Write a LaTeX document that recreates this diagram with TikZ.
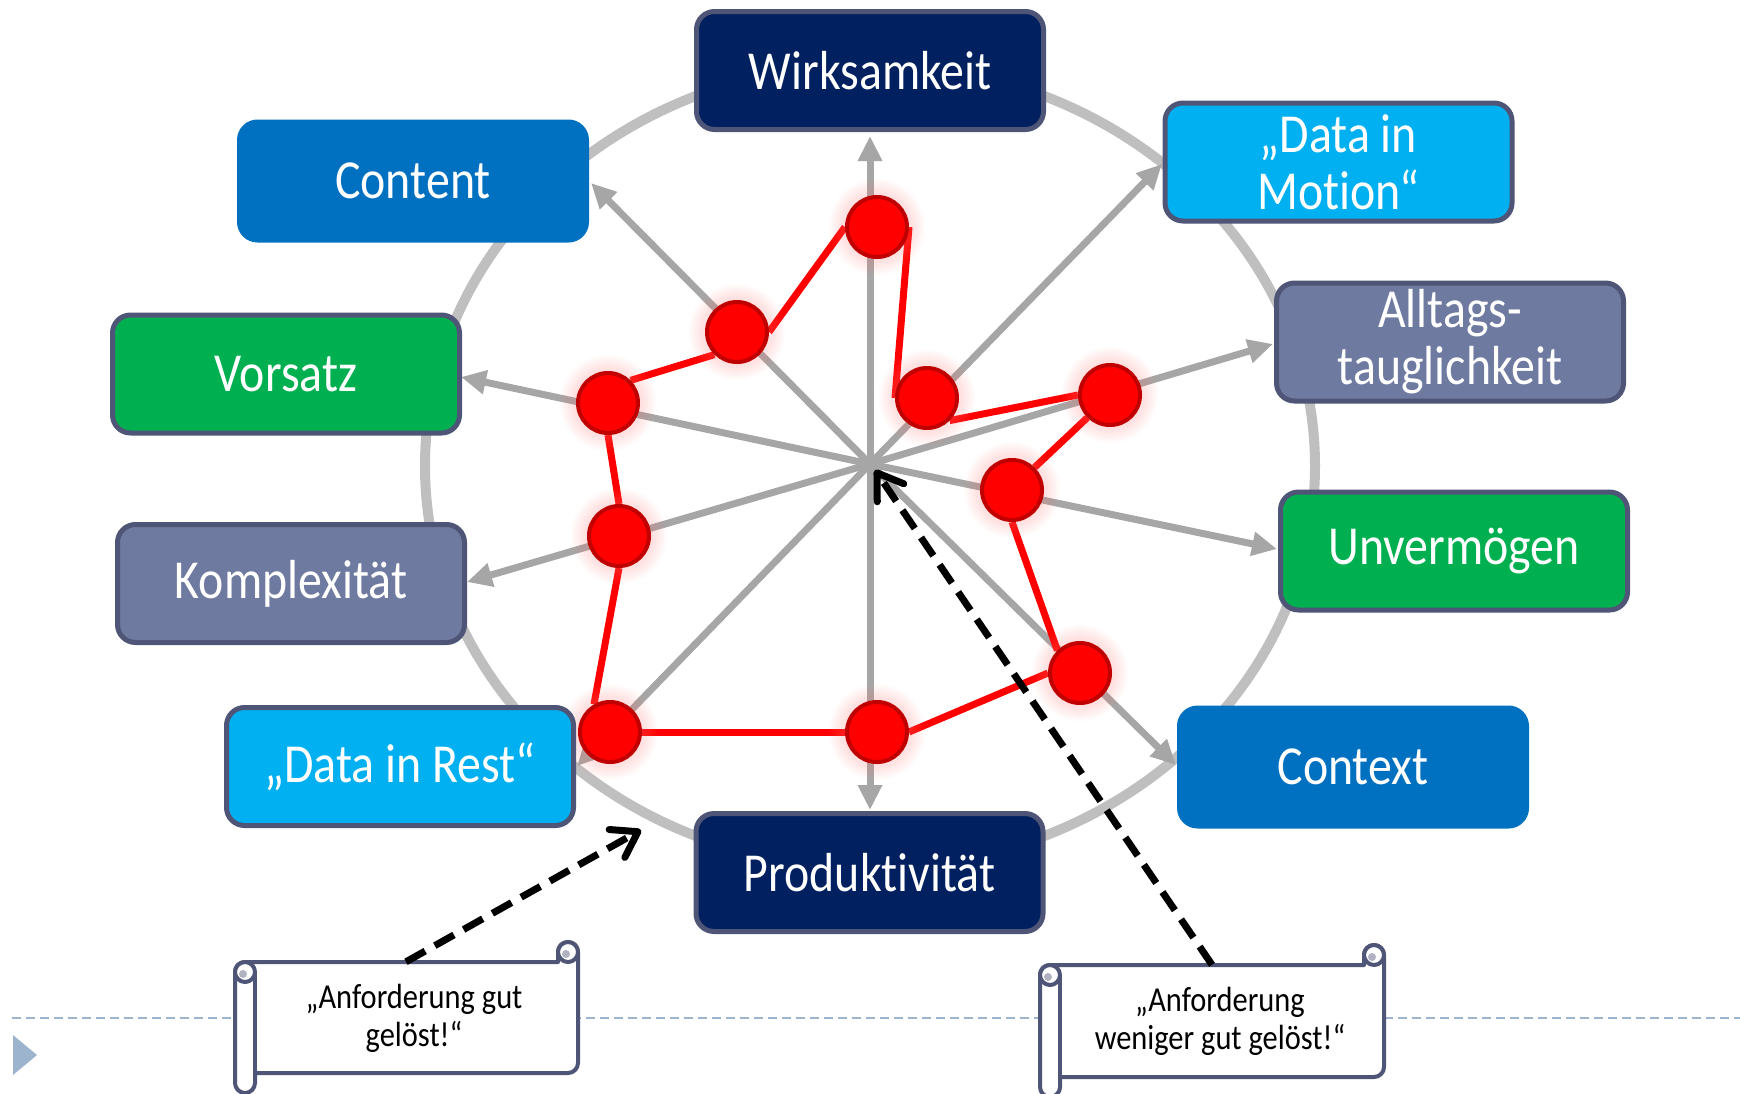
\documentclass[tikz,border=0pt]{standalone}
\usepackage{fontspec}
\setmainfont{Carlito}[FakeStretch=0.87,Ligatures=NoCommon]
\usetikzlibrary{arrows.meta,calc}
\pgfdeclarelayer{back}
\pgfdeclarelayer{mid}
\pgfsetlayers{back,mid,main}

\definecolor{navy}{HTML}{002060}
\definecolor{midblue}{HTML}{0070C0}
\definecolor{skyblue}{HTML}{00B0F0}
\definecolor{slateblue}{HTML}{6F7AA0}
\definecolor{leaf}{HTML}{00B050}
\definecolor{edge}{HTML}{4F5577}
\definecolor{spokegray}{HTML}{A6A6A6}
\definecolor{ringgray}{HTML}{BFBFBF}
\definecolor{dotedge}{HTML}{C00000}
\definecolor{rulecol}{HTML}{9DB4CE}

\newcommand{\lblfont}{\fontsize{55}{57}\selectfont}
\newcommand{\scrollfont}{\fontsize{35}{38}\selectfont}

% horizontal scroll outline: #1 left, #2 top, #3 right, #4 bottom
\newcommand{\scrollframe}[4]{%
  \filldraw[scroll line, fill=white]
    ({#1},{#2+30}) arc[start angle=180,end angle=270,radius=10]
    -- ({#3-20},{#2+20}) -- ({#3-20},{#2+10})
    arc[start angle=180,end angle=360,radius=10]
    -- ({#3},{#4-30})
    arc[start angle=0,end angle=90,radius=10]
    -- ({#1+20},{#4-20}) -- ({#1+20},{#4-10})
    arc[start angle=0,end angle=180,radius=10]
    -- cycle;
  \draw[scroll line] ({#1+20},{#2+30}) -- ({#1+20},{#4-20});
  \filldraw[scroll line, fill=white] ({#3-10},{#2+10}) circle (10);
  \filldraw[scroll line, fill=white] ({#1+10},{#2+30}) circle (10);
  \fill[edge!45] ({#3-12},{#2+12}) circle (4);
  \fill[edge!45] ({#1+8},{#2+32}) circle (4);
}

\tikzset{
  label box/.style={rounded corners=18pt, minimum width=347pt, minimum height=118pt,
    line width=5pt, draw=edge, text=white, font=\lblfont, align=center, inner sep=0pt},
  spoke/.style={draw=spokegray, line width=7pt, -{Triangle[length=25pt,width=23pt]}},
  ring/.style={draw=ringgray, line width=10pt},
  score dot/.style={circle, fill=red, draw=dotedge, line width=4pt, minimum size=60pt, inner sep=0pt},
  score line/.style={draw=red, line width=7pt},
  glow/.style={fill=red!50, opacity=0.035},
  note arrow/.style={draw=black, line width=7pt, dash pattern=on 22pt off 11pt,
    -{Straight Barb[length=24pt,width=32pt,round]}},
  scroll line/.style={draw=edge, line width=4pt, line join=round},
  note/.style={minimum width=323pt, minimum height=110pt, inner sep=0pt, align=center,
    font=\scrollfont, text=black},
  rule/.style={draw=rulecol, line width=2pt, dash pattern=on 9pt off 5pt},
}

\begin{document}
\begin{tikzpicture}[x=1pt,y=-1pt]
\useasboundingbox (0,0) rectangle (1740,1093);

% criteria boxes
\node[label box, fill=navy] (wirk) at (870,70.5) {Wirksamkeit};
\node[label box, fill=midblue, draw=midblue] (cont) at (413,181) {Content};
\node[label box, fill=skyblue] (dim) at (1338.5,162) {„Data in\\Motion“};
\node[label box, fill=slateblue] (allt) at (1450,342) {Alltags-\\tauglichkeit};
\node[label box, fill=leaf] (vors) at (286,374) {Vorsatz};
\node[label box, fill=leaf] (unv) at (1454,551) {Unvermögen};
\node[label box, fill=slateblue] (kompl) at (291,583.5) {Komplexität};
\node[label box, fill=midblue, draw=midblue] (ctx) at (1353,767) {Context};
\node[label box, fill=skyblue] (dir) at (400,766.5) {„Data in Rest“};
\node[label box, fill=navy] (prod) at (869.5,872.5) {Produktivität};

% hub and spoke tips
\coordinate (hub) at (870,464);
\coordinate (tW) at (870,136);
\coordinate (tCont) at (591,183);
\coordinate (tDiM) at (1162,164);
\coordinate (tAllt) at (1273,344);
\coordinate (tVors) at (461,377);
\coordinate (tUnv) at (1277,549);
\coordinate (tKompl) at (467,582);
\coordinate (tCtx) at (1176,765);
\coordinate (tDiR) at (577,766);
\coordinate (tProd) at (870,810);

\begin{pgfonlayer}{back}
  \draw[ring] (870,466) ellipse [x radius=445, y radius=402];
  \foreach \t in {tW,tCont,tDiM,tAllt,tVors,tUnv,tKompl,tCtx,tDiR,tProd}
    \draw[spoke] (hub) -- (\t);
  \draw[rule] (12,1018) -- (1740,1018);
  \fill[rulecol] (13,1035) -- (13,1075) -- (37,1055) -- cycle;
\end{pgfonlayer}

% score points
\node[score dot] (d1) at (877,227) {};
\node[score dot] (d2) at (737,332) {};
\node[score dot] (d3) at (608,403) {};
\node[score dot] (d4) at (619,536) {};
\node[score dot] (d5) at (610,732) {};
\node[score dot] (d6) at (877,732) {};
\node[score dot] (d7) at (1080,673) {};
\node[score dot] (d8) at (1012,490) {};
\node[score dot] (d9) at (1110,395) {};
\node[score dot] (d10) at (927,398) {};

\begin{pgfonlayer}{mid}
  \draw[score line] (d1.west) -- (d2.east);
  \draw[score line] (d2.south west) -- (d3.north east);
  \draw[score line] (d3.south) -- (d4.north);
  \draw[score line] (d4.south) -- (d5.120);
  \draw[score line] (d5.east) -- (d6.west);
  \draw[score line] (d6.east) -- (d7.west);
  \draw[score line] (d7.north west) -- (d8.south);
  \draw[score line] (d8.north east) -- (d9.south west);
  \draw[score line] (d9.west) -- (d10.south east);
  \draw[score line] (d10.west) -- (d1.east);
  % soft halo round each point
  \foreach \d in {d1,d2,d3,d4,d5,d6,d7,d8,d9,d10} {
    \foreach \r in {34,36,...,48}
      \fill[glow] (\d) circle (\r);
  }
\end{pgfonlayer}

% scroll notes
\scrollframe{235}{942}{578}{1093}
\scrollframe{1040}{945}{1384}{1097}
\node[note] (s1) at (414,1018) {„Anforderung gut\\gelöst!“};
\node[note] (s2) at (1220,1021) {„Anforderung\\weniger gut gelöst!“};

\coordinate (tipA) at (641,830);
\coordinate (tipB) at (875,470);
\draw[note arrow] ($(s1.north)+(-8,-1)$) -- (tipA);
\draw[note arrow] ($(s2.north)+(-8,-1)$) -- (tipB);
\end{tikzpicture}
\end{document}
